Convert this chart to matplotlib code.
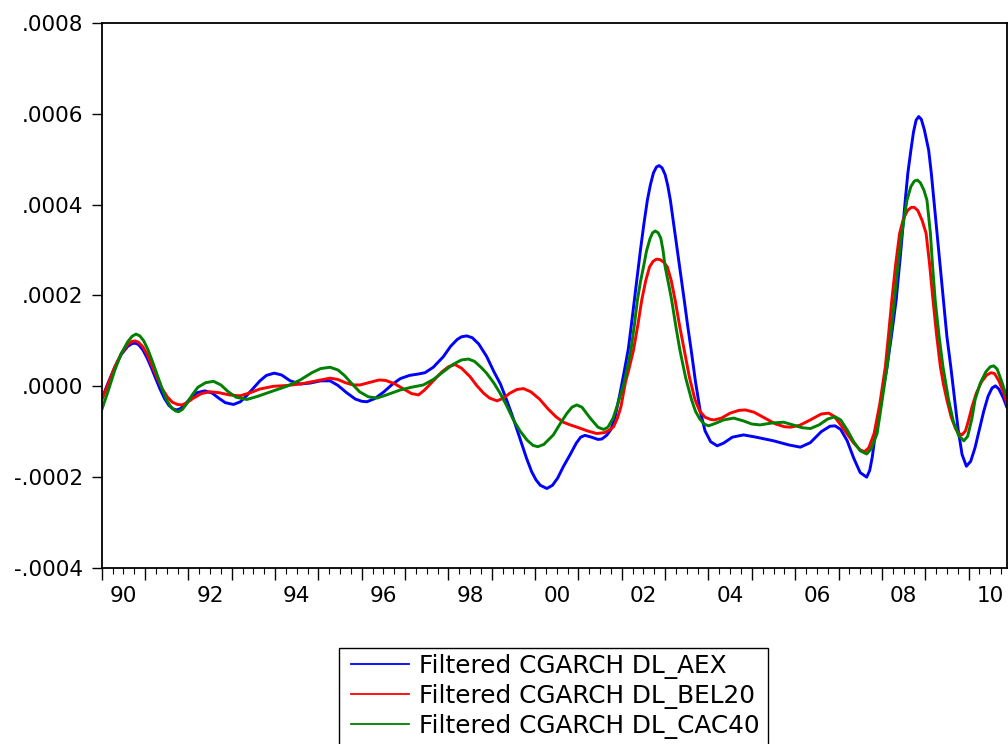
import matplotlib
matplotlib.use("Agg")
import matplotlib.pyplot as plt
from matplotlib.patches import Rectangle
from matplotlib.ticker import FuncFormatter

plt.rcParams["font.family"] = ["DejaVu Sans"]

# filtered conditional variances, values in units of 1e-4
aex_t = [1990.0, 1990.15, 1990.3, 1990.45, 1990.6, 1990.7, 1990.77, 1990.85, 1990.95, 1991.05,
         1991.15, 1991.25, 1991.35, 1991.45, 1991.55, 1991.65, 1991.73, 1991.82, 1991.92, 1992.05,
         1992.2, 1992.38, 1992.55, 1992.7, 1992.85, 1993.04, 1993.2, 1993.35, 1993.5, 1993.65,
         1993.8, 1993.98, 1994.15, 1994.35, 1994.58, 1994.8, 1995.05, 1995.27, 1995.45, 1995.65,
         1995.85, 1996.0, 1996.12, 1996.3, 1996.5, 1996.7, 1996.89, 1997.1, 1997.3, 1997.46,
         1997.65, 1997.88, 1998.05, 1998.2, 1998.3, 1998.42, 1998.55, 1998.7, 1998.88, 1999.05,
         1999.2, 1999.35, 1999.5, 1999.65, 1999.8, 1999.92, 2000.02, 2000.12, 2000.27, 2000.4,
         2000.52, 2000.65, 2000.81, 2000.95, 2001.05, 2001.15, 2001.3, 2001.45, 2001.54, 2001.65,
         2001.75, 2001.85, 2001.96, 2002.05, 2002.15, 2002.22, 2002.29, 2002.36, 2002.43, 2002.51,
         2002.59, 2002.66, 2002.73, 2002.8, 2002.86, 2002.93, 2003.0, 2003.06, 2003.12, 2003.2,
         2003.28, 2003.36, 2003.44, 2003.52, 2003.6, 2003.7, 2003.81, 2003.92, 2004.05, 2004.2,
         2004.35, 2004.55, 2004.81, 2005.1, 2005.5, 2005.85, 2006.12, 2006.35, 2006.6, 2006.8,
         2006.92, 2007.05, 2007.2, 2007.35, 2007.5, 2007.65, 2007.72, 2007.78, 2007.85, 2007.95,
         2008.05, 2008.12, 2008.22, 2008.33, 2008.43, 2008.54, 2008.6, 2008.67, 2008.73, 2008.79,
         2008.85, 2008.91, 2008.98, 2009.08, 2009.14, 2009.2, 2009.31, 2009.42, 2009.5, 2009.59,
         2009.68, 2009.76, 2009.85, 2009.95, 2010.05, 2010.15, 2010.25, 2010.35, 2010.45, 2010.54,
         2010.62, 2010.7, 2010.8, 2010.88]
aex_v = [-0.28, 0.08, 0.42, 0.70, 0.88, 0.94, 0.95, 0.92, 0.80, 0.62,
         0.40, 0.16, -0.07, -0.27, -0.42, -0.50, -0.52, -0.49, -0.40, -0.26,
         -0.14, -0.10, -0.15, -0.26, -0.36, -0.40, -0.34, -0.20, -0.04, 0.12,
         0.24, 0.29, 0.25, 0.12, 0.05, 0.07, 0.12, 0.12, 0.02, -0.14,
         -0.28, -0.33, -0.34, -0.27, -0.13, 0.04, 0.17, 0.24, 0.27, 0.30,
         0.42, 0.65, 0.88, 1.03, 1.09, 1.11, 1.07, 0.93, 0.66, 0.32,
         0.05, -0.32, -0.72, -1.15, -1.58, -1.88, -2.06, -2.18, -2.25, -2.18,
         -2.02, -1.77, -1.50, -1.25, -1.12, -1.08, -1.12, -1.17, -1.16, -1.08,
         -0.95, -0.65, -0.15, 0.30, 0.82, 1.35, 1.90, 2.45, 3.00, 3.58,
         4.10, 4.44, 4.70, 4.83, 4.86, 4.81, 4.66, 4.42, 4.10, 3.55,
         3.00, 2.45, 1.90, 1.33, 0.80, 0.10, -0.55, -0.98, -1.22, -1.31,
         -1.25, -1.12, -1.07, -1.12, -1.20, -1.29, -1.34, -1.24, -1.00, -0.88,
         -0.87, -0.95, -1.20, -1.58, -1.90, -2.00, -1.85, -1.55, -1.04, -0.50,
         0.05, 0.43, 1.10, 1.90, 2.90, 4.10, 4.70, 5.20, 5.60, 5.86,
         5.94, 5.88, 5.65, 5.20, 4.70, 4.10, 3.00, 1.90, 1.10, 0.43,
         -0.30, -0.95, -1.50, -1.76, -1.65, -1.35, -0.95, -0.55, -0.22, -0.04,
         0.01, -0.06, -0.25, -0.45]

bel20_t = [1990.0, 1990.15, 1990.3, 1990.45, 1990.6, 1990.7, 1990.77, 1990.85, 1990.95, 1991.05,
           1991.15, 1991.28, 1991.4, 1991.52, 1991.63, 1991.75, 1991.85, 1991.97, 1992.1, 1992.3,
           1992.5, 1992.7, 1992.95, 1993.19, 1993.4, 1993.65, 1993.96, 1994.3, 1994.58, 1994.95,
           1995.27, 1995.45, 1995.62, 1995.8, 1995.96, 1996.2, 1996.4, 1996.55, 1996.75, 1996.95,
           1997.15, 1997.31, 1997.45, 1997.65, 1997.85, 1998.0, 1998.15, 1998.3, 1998.5, 1998.65,
           1998.81, 1998.95, 1999.12, 1999.27, 1999.42, 1999.58, 1999.73, 1999.9, 2000.1, 2000.3,
           2000.48, 2000.65, 2000.81, 2001.0, 2001.2, 2001.42, 2001.6, 2001.72, 2001.81, 2001.9,
           2001.98, 2002.08, 2002.17, 2002.27, 2002.37, 2002.46, 2002.55, 2002.64, 2002.72, 2002.8,
           2002.88, 2002.96, 2003.05, 2003.14, 2003.23, 2003.33, 2003.44, 2003.56, 2003.69, 2003.8,
           2003.92, 2004.05, 2004.13, 2004.3, 2004.5, 2004.7, 2004.85, 2005.05, 2005.3, 2005.55,
           2005.75, 2005.89, 2006.1, 2006.35, 2006.6, 2006.77, 2006.9, 2007.05, 2007.2, 2007.35,
           2007.5, 2007.6, 2007.7, 2007.82, 2007.95, 2008.08, 2008.15, 2008.23, 2008.32, 2008.41,
           2008.5, 2008.6, 2008.68, 2008.75, 2008.83, 2008.93, 2009.02, 2009.1, 2009.18, 2009.26,
           2009.35, 2009.42, 2009.5, 2009.6, 2009.7, 2009.78, 2009.85, 2009.93, 2010.0, 2010.08,
           2010.18, 2010.3, 2010.42, 2010.52, 2010.6, 2010.7, 2010.8, 2010.88]
bel20_v = [-0.30, 0.05, 0.42, 0.72, 0.92, 0.99, 1.00, 0.97, 0.87, 0.70,
           0.48, 0.18, -0.06, -0.24, -0.35, -0.40, -0.41, -0.36, -0.27, -0.16,
           -0.12, -0.14, -0.19, -0.21, -0.15, -0.06, 0.00, 0.02, 0.05, 0.12,
           0.18, 0.15, 0.08, 0.03, 0.03, 0.09, 0.14, 0.13, 0.06, -0.05,
           -0.16, -0.19, -0.08, 0.12, 0.32, 0.43, 0.48, 0.40, 0.21, 0.02,
           -0.15, -0.26, -0.32, -0.26, -0.15, -0.07, -0.05, -0.12, -0.28, -0.50,
           -0.67, -0.79, -0.85, -0.91, -0.98, -1.04, -1.02, -0.96, -0.89, -0.70,
           -0.45, 0.07, 0.40, 0.80, 1.35, 1.90, 2.32, 2.63, 2.75, 2.80,
           2.79, 2.74, 2.63, 2.33, 1.90, 1.35, 0.80, 0.20, -0.30, -0.55,
           -0.68, -0.73, -0.74, -0.70, -0.59, -0.53, -0.52, -0.57, -0.70, -0.83,
           -0.89, -0.90, -0.86, -0.74, -0.61, -0.59, -0.66, -0.85, -1.05, -1.25,
           -1.40, -1.44, -1.35, -1.04, -0.40, 0.43, 1.10, 1.90, 2.70, 3.37,
           3.70, 3.88, 3.94, 3.94, 3.87, 3.65, 3.37, 2.70, 1.90, 1.15,
           0.43, 0.05, -0.30, -0.68, -0.93, -1.04, -1.07, -0.98, -0.75, -0.45,
           -0.15, 0.10, 0.25, 0.30, 0.28, 0.12, -0.12, -0.37]

cac40_t = [1990.0, 1990.15, 1990.3, 1990.45, 1990.6, 1990.7, 1990.79, 1990.88, 1990.97, 1991.07,
           1991.17, 1991.28, 1991.4, 1991.5, 1991.6, 1991.7, 1991.77, 1991.86, 1991.95, 1992.08,
           1992.22, 1992.4, 1992.58, 1992.75, 1992.92, 1993.1, 1993.35, 1993.6, 1993.96, 1994.27,
           1994.58, 1994.85, 1995.05, 1995.27, 1995.45, 1995.6, 1995.75, 1995.95, 1996.15, 1996.35,
           1996.6, 1996.89, 1997.15, 1997.42, 1997.65, 1997.88, 1998.1, 1998.3, 1998.46, 1998.6,
           1998.75, 1998.88, 1999.05, 1999.19, 1999.34, 1999.5, 1999.65, 1999.81, 1999.95, 2000.06,
           2000.2, 2000.42, 2000.58, 2000.73, 2000.85, 2000.96, 2001.08, 2001.27, 2001.45, 2001.58,
           2001.68, 2001.8, 2001.92, 2002.05, 2002.13, 2002.21, 2002.29, 2002.36, 2002.43, 2002.5,
           2002.57, 2002.65, 2002.71, 2002.77, 2002.84, 2002.9, 2002.95, 2003.0, 2003.08, 2003.15,
           2003.25, 2003.34, 2003.47, 2003.61, 2003.7, 2003.8, 2003.9, 2004.0, 2004.15, 2004.35,
           2004.58, 2004.8, 2005.0, 2005.19, 2005.45, 2005.73, 2005.95, 2006.15, 2006.35, 2006.55,
           2006.75, 2006.92, 2007.05, 2007.2, 2007.35, 2007.5, 2007.65, 2007.75, 2007.89, 2008.0,
           2008.12, 2008.2, 2008.29, 2008.37, 2008.46, 2008.58, 2008.67, 2008.75, 2008.82, 2008.89,
           2008.97, 2009.04, 2009.12, 2009.17, 2009.23, 2009.32, 2009.41, 2009.54, 2009.65, 2009.77,
           2009.89, 2009.98, 2010.08, 2010.15, 2010.27, 2010.4, 2010.5, 2010.58, 2010.66, 2010.76,
           2010.88]
cac40_v = [-0.52, -0.10, 0.35, 0.72, 0.98, 1.10, 1.15, 1.11, 1.00, 0.80,
           0.55, 0.25, -0.07, -0.30, -0.46, -0.54, -0.56, -0.51, -0.40, -0.20,
           -0.02, 0.08, 0.11, 0.03, -0.12, -0.24, -0.29, -0.22, -0.10, 0.00,
           0.14, 0.30, 0.39, 0.42, 0.36, 0.24, 0.08, -0.12, -0.23, -0.26,
           -0.18, -0.08, -0.02, 0.03, 0.15, 0.32, 0.48, 0.58, 0.60, 0.55,
           0.42, 0.29, 0.07, -0.15, -0.42, -0.74, -0.98, -1.18, -1.30, -1.33,
           -1.28, -1.07, -0.82, -0.60, -0.46, -0.41, -0.46, -0.70, -0.90, -0.95,
           -0.90, -0.70, -0.35, 0.07, 0.42, 0.80, 1.35, 1.90, 2.30, 2.63,
           2.98, 3.25, 3.38, 3.42, 3.38, 3.26, 3.00, 2.63, 2.25, 1.90,
           1.30, 0.80, 0.20, -0.30, -0.55, -0.72, -0.83, -0.87, -0.82, -0.74,
           -0.70, -0.76, -0.83, -0.85, -0.81, -0.79, -0.85, -0.91, -0.93, -0.85,
           -0.72, -0.67, -0.74, -0.96, -1.22, -1.42, -1.49, -1.38, -1.04, -0.35,
           0.43, 1.10, 1.90, 2.65, 3.37, 4.10, 4.40, 4.52, 4.54, 4.48,
           4.32, 4.10, 3.37, 2.65, 1.90, 1.10, 0.43, -0.30, -0.78, -1.08,
           -1.20, -1.10, -0.70, -0.30, 0.07, 0.32, 0.43, 0.45, 0.38, 0.12,
           -0.23]

series = [
    ("Filtered CGARCH DL_AEX", aex_t, aex_v, "#0000FF"),
    ("Filtered CGARCH DL_BEL20", bel20_t, bel20_v, "#FF0000"),
    ("Filtered CGARCH DL_CAC40", cac40_t, cac40_v, "#008000"),
]

W, H = 1008, 744
fig = plt.figure(figsize=(W / 100, H / 100), dpi=100)
ax = fig.add_axes([0.1009, 0.2366, 0.8978, 0.7325])

for label, t, v, color in series:
    ax.plot(t, [x * 1e-4 for x in v], color=color, linewidth=2.1, label=label,
            solid_joinstyle="round")

ax.set_xlim(1990.0, 2010.88)
ax.set_ylim(-0.0004, 0.0008)

ax.set_yticks([-0.0004, -0.0002, 0.0, 0.0002, 0.0004, 0.0006, 0.0008])
ax.yaxis.set_major_formatter(FuncFormatter(
    lambda v, _: f"{v:.4f}".replace("0.", ".", 1) if abs(v) > 1e-12 else ".0000"))
ax.tick_params(axis="y", direction="out", length=7.5, width=1.0, pad=6.0, labelsize=15.5)

# year ticks on the boundaries, quarter ticks between, labels mid-year
years = list(range(1990, 2011))
quarters = [y + q for y in range(1990, 2011) for q in (0.25, 0.5, 0.75) if y + q < 2010.88]
qlabels = [f"{int(q) % 100:02d}" if (q % 1 == 0.5 and int(q) % 2 == 0) else "" for q in quarters]
ax.set_xticks(years)
ax.set_xticklabels([])
ax.set_xticks(quarters, labels=qlabels, minor=True)
ax.tick_params(axis="x", which="major", direction="out", length=8.5, width=1.0)
ax.tick_params(axis="x", which="minor", direction="out", length=4, width=0.8,
               pad=9, labelsize=15.5)

for side in ["left", "right", "top", "bottom"]:
    ax.spines[side].set_linewidth(1.3)
    ax.spines[side].set_color("black")

# legend box runs off the bottom edge of the figure
fig.patches.append(Rectangle((339 / W, -0.05), (768 - 339) / W, 0.05 + (H - 648) / H,
                             transform=fig.transFigure, fill=False,
                             edgecolor="black", linewidth=1.0))
leg = fig.legend(loc="upper left", bbox_to_anchor=(351 / W, 1 - 654 / H),
                 fontsize=17.8, frameon=False, borderpad=0, borderaxespad=0,
                 handlelength=2.35, handletextpad=0.4, labelspacing=0.2)
for line in leg.get_lines():
    line.set_linewidth(1.3)

fig.savefig("out.png", dpi=100)
